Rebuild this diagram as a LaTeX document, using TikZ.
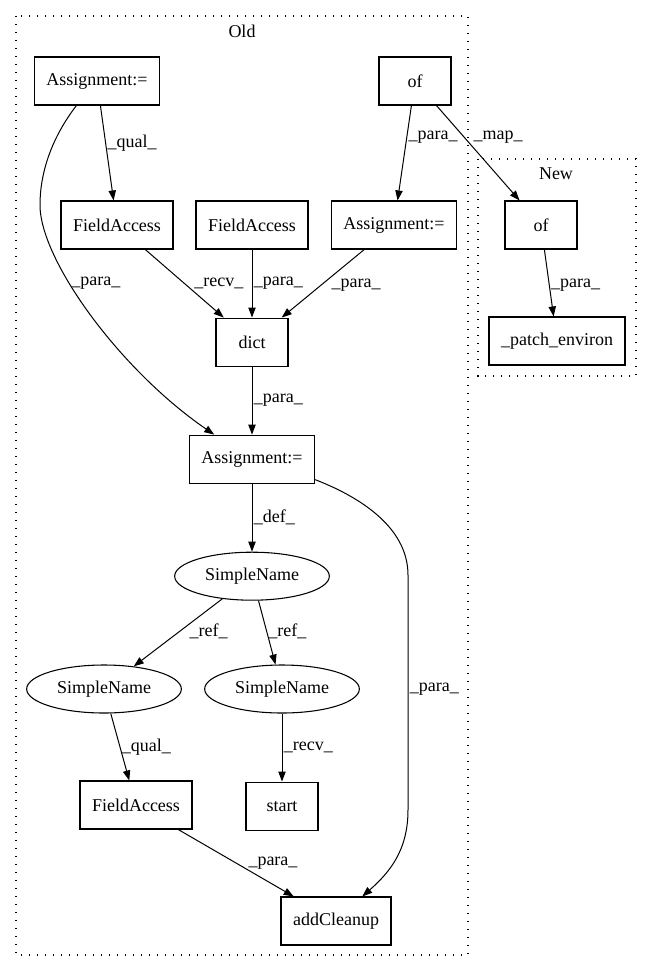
\documentclass[tikz,border=0pt]{standalone}
\usepackage{fontspec}
\setmainfont{Liberation Serif}
\usetikzlibrary{positioning, shapes.geometric, arrows.meta}

\begin{document}
\begin{tikzpicture}[
x=0.75pt, y=-0.75pt,
boxnode/.style={rectangle, draw=black, line width=0.8pt, minimum width=54pt, minimum height=36pt, inner xsep=9pt},
namenode/.style={ellipse, draw=black, line width=0.8pt, minimum width=116pt, minimum height=36pt, inner sep=0pt},
clusterbox/.style={draw=black, line width=1pt, dash pattern=on 1pt off 5pt},
lbl/.style={right, inner sep=1pt},
every node/.style={font=\fontsize{13.5}{16}\selectfont},
every edge/.style={draw, line width=0.75pt},
>={Triangle[length=7.5pt, width=5.5pt]}
]

\useasboundingbox (0,0) rectangle (652,972);

% clusters
\draw[clusterbox] (16,16) rectangle (468,955);
\draw[clusterbox] (478,159) rectangle (636,376);
\node (title_old) at (242,31) {Old};
\node (title_new) at (556,174) {New};

\node[boxnode] (box_assign1) at (97,81) {Assignment:=};
\node[boxnode] (box_of1) at (415,81) {of};
\node[boxnode] (box_fa1) at (117,225) {FieldAccess};
\node[boxnode] (box_fa2) at (252,225) {FieldAccess};
\node[boxnode] (box_assign2) at (394,225) {Assignment:=};
\node[boxnode] (box_dict) [below=51pt of box_fa2] {dict};
\node[boxnode] (box_assign3) [below=51pt of box_dict] {Assignment:=};
\node[namenode] (ell_sn1) [below=51pt of box_assign3] {SimpleName};
\node[namenode] (ell_sn2) at (104,689) {SimpleName};
\node[namenode] (ell_sn3) at (282,689) {SimpleName};
\node[boxnode] (box_fa3) at (136,805) {FieldAccess};
\node[boxnode] (box_start) [below=51pt of ell_sn3] {start};
\node[boxnode] (box_cleanup) at (336,921) {addCleanup};

\node[boxnode] (box_of2) at (541,225) {of};
\node[boxnode] (box_patch) at (557,341) {\_patch\_environ};

\path[->] (box_assign1) edge node [lbl, pos=0.4] {\_qual\_} (box_fa1);
\path[->] (box_of1) edge node [lbl, pos=0.33] {\_para\_} (box_assign2);
\path[->] (box_of1) edge node [lbl, pos=0.33, xshift=6pt] {\_map\_} (box_of2);

\path[->] (box_fa1) edge node [lbl, pos=0.5, xshift=6pt] {\_recv\_} (box_dict);
\path[->] (box_fa2) edge node [lbl, pos=0.5] {\_para\_} (box_dict);
\path[->] (box_assign2) edge node [lbl, pos=0.53, xshift=7pt] {\_para\_} (box_dict);
\path[->] (box_dict) edge node [lbl, pos=0.5] {\_para\_} (box_assign3);
\draw[->, line width=0.75pt] (box_assign1.230) .. controls (50,140) and (40,175) .. (40,205)
  .. controls (40,260) and (120,370) .. (box_assign3.147) node [lbl, pos=0.37] {\_para\_};

\path[->] (box_assign3) edge node [lbl, pos=0.5] {\_def\_} (ell_sn1);
\path[->] (ell_sn1) edge node [lbl, pos=0.48, xshift=6pt] {\_ref\_} (ell_sn2);
\path[->] (ell_sn1) edge node [lbl, pos=0.48] {\_ref\_} (ell_sn3);
\path[->] (ell_sn2) edge node [lbl, pos=0.5] {\_qual\_} (box_fa3);
\path[->] (ell_sn3) edge node [lbl, pos=0.5] {\_recv\_} (box_start);
\path[->] (box_fa3) edge node [lbl, pos=0.5, xshift=8pt] {\_para\_} (box_cleanup);
\draw[->, line width=0.75pt] (box_assign3.342) .. controls (355,495) and (408,525) .. (408,575)
  -- (408,810) node [lbl, pos=0.485] {\_para\_}
  .. controls (408,850) and (390,872) .. (box_cleanup.43);

\path[->] (box_of2) edge node [lbl, pos=0.53] {\_para\_} (box_patch);

\end{tikzpicture}
\end{document}
